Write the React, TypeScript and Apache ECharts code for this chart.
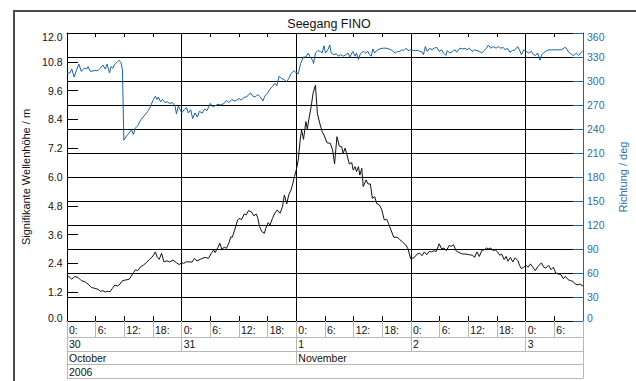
import React, { useEffect, useRef } from 'react';
import * as echarts from 'echarts';

// Significant wave height (m) at FINO, hours since 30 Oct 2006 00:00
const waveHours = [
  0, 1, 1.6, 2.3, 3, 3.7, 4.4, 5.1, 5.8, 6.5, 7, 7.5, 8, 8.5, 9, 9.5, 10, 10.6, 11.1, 11.6,
  12.3, 13, 13.4, 13.9, 14.3, 14.8, 15.4, 16, 16.6, 17.3, 18, 18.5, 18.9, 19.3, 19.8, 20.3,
  20.9, 21.5, 22.2, 22.9, 23.5, 24, 24.4, 25, 25.7, 26.2, 26.7, 27.2, 28.3, 28.9, 29.6, 30.2,
  30.7, 31, 31.6, 32, 32.4, 32.9, 33.4, 33.9, 34.3, 34.6, 35.1, 35.7, 36.2, 36.5, 37.1, 37.5,
  38, 38.6, 39.1, 39.6, 39.9, 40.3, 40.8, 41.3, 41.6, 42.1, 42.5, 43, 43.5, 44, 44.6, 45.1,
  45.5, 46, 46.4, 46.9, 47.3, 47.6, 48, 48.4, 48.8, 49.1, 49.5, 50, 50.3, 50.6, 51.1, 51.5,
  52, 52.4, 52.9, 53.4, 53.8, 54.4, 55.1, 55.6, 56, 56.5, 57, 57.5, 57.8, 58.2, 58.6, 59.1,
  59.6, 59.9, 60.3, 60.6, 61, 61.3, 61.7, 62, 62.6, 63, 63.5, 63.9, 64.4, 64.8, 65.4, 65.9,
  66.4, 66.9, 67.3, 67.8, 68.4, 69.1, 69.6, 70.2, 70.9, 71.4, 71.9, 72.6, 73.3, 73.8, 74.3,
  74.8, 75.3, 75.8, 76.3, 76.8, 77.3, 77.9, 78.4, 78.9, 79.4, 80, 80.4, 80.9, 81.4, 81.8,
  82.3, 82.8, 83.5, 84.2, 84.9, 85.3, 85.8, 86.3, 86.8, 87.3, 87.8, 88.2, 88.7, 89.2, 89.6,
  90.1, 90.6, 91, 91.5, 91.9, 92.3, 92.8, 93.3, 93.8, 94.4, 94.7, 95.1, 95.6, 96.1, 96.5,
  97, 97.5, 98, 98.6, 99.3, 99.8, 100.2, 100.8, 101.3, 101.8, 102.3, 102.8, 103.4, 103.9,
  104.3, 104.9, 105.4, 105.9, 106.4, 106.9, 107.4, 108,
];
const waveHeights = [
  1.92, 1.74, 1.85, 1.82, 1.68, 1.64, 1.54, 1.4, 1.36, 1.32, 1.24, 1.26, 1.21, 1.24, 1.22, 1.36, 1.5, 1.46, 1.54, 1.68,
  1.71, 1.74, 1.85, 2.01, 2.13, 2.1, 2.26, 2.33, 2.43, 2.57, 2.71, 2.88, 2.65, 2.57, 2.82, 2.46,
  2.51, 2.46, 2.54, 2.43, 2.35, 2.43, 2.4, 2.47, 2.46, 2.46, 2.61, 2.5, 2.61, 2.65, 2.61, 2.82,
  2.96, 2.85, 3.07, 3.24, 2.99, 3.07, 3.03, 3.26, 3.51, 3.49, 3.79, 4.21, 4.28, 4.21, 4.46, 4.42,
  4.6, 4.55, 4.38, 4.46, 4.32, 3.93, 3.72, 3.65, 3.86, 4.1, 4.0, 4.28, 4.49, 4.63, 4.49, 4.76,
  5.25, 4.88, 5.25, 5.46, 5.76, 6.01, 6.3, 6.71, 7.54, 7.96, 7.57, 8.31, 7.99, 8.38, 8.93, 9.49,
  9.83, 8.65, 8.24, 7.89, 7.75, 7.43, 7.4, 7.13, 6.54, 7.68, 7.29, 7.26, 6.99, 7.2, 6.92, 6.54,
  6.6, 6.29, 6.43, 6.22, 6.43, 6.08, 6.36, 5.6, 5.88, 5.71, 5.71, 5.11, 5.18, 4.9, 4.83, 4.63,
  4.21, 4.24, 4.07, 3.79, 3.49, 3.49, 3.4, 3.3, 3.17, 3.0, 2.6, 2.63, 2.79, 2.83, 2.72,
  2.88, 2.76, 2.9, 2.88, 2.93, 2.9, 3.22, 3.01, 3.04, 2.93, 3.15, 3.11, 3.18, 2.93, 2.88,
  2.83, 2.79, 2.79, 2.76, 2.74, 2.65, 2.88, 2.69, 2.93, 2.97, 3.04, 3.01, 3.04, 2.93, 2.97,
  2.88, 2.74, 2.79, 2.56, 2.69, 2.49, 2.65, 2.46, 2.63, 2.51, 2.32, 2.18, 2.24, 2.32, 2.24,
  2.38, 2.24, 2.1, 2.28, 2.42, 2.24, 2.21, 2.32, 2.14, 2.24, 2.0, 1.96, 1.93, 1.76,
  1.86, 1.72, 1.68, 1.65, 1.54, 1.51, 1.54, 1.45,
];

// Wave direction (deg), same time base
const dirHours = [
  0, 0.6, 1, 1.5, 2, 2.5, 3, 3.6, 4.1, 4.4, 4.9, 5.8, 6.5, 7, 7.5, 8, 8.4, 8.9, 9.2, 9.6,
  10, 10.4, 10.9, 11.3, 11.6, 11.9, 12.3, 13, 13.5, 13.9, 14.3, 14.8, 15.4, 15.9, 16.4, 16.9,
  17.3, 17.6, 18, 18.5, 18.8, 19.1, 19.6, 20, 20.5, 21, 21.5, 22.1, 22.6, 22.9, 23.3, 23.8,
  24, 24.5, 25, 25.4, 25.9, 26.3, 26.8, 27.3, 27.7, 28.3, 28.8, 29.3, 30, 30.5, 31, 31.6,
  32.2, 32.9, 33.4, 33.9, 34.5, 35, 35.5, 36, 36.5, 37.1, 37.6, 38, 38.4, 38.9, 39.4, 39.9,
  40.5, 41, 41.4, 42, 42.5, 43, 43.5, 43.9, 44.4, 44.9, 45.4, 46, 46.4, 46.9, 47.5, 48,
  48.4, 48.9, 49.2, 49.5, 50, 50.5, 50.9, 51.4, 51.6, 52, 52.5, 53.1, 53.4, 53.8, 54.1, 54.6,
  55, 55.3, 55.8, 56.4, 56.8, 57.3, 57.8, 58.4, 58.8, 59.2, 59.8, 60.3, 60.6, 61, 61.4, 62,
  62.5, 63, 63.3, 63.7, 64, 64.4, 64.8, 65.4, 66.1, 66.8, 67.4, 68.1, 68.7, 69.2, 69.6, 70.2,
  70.5, 71, 71.4, 71.9, 72.6, 73.6, 74.3, 74.6, 75, 75.4, 75.9, 76.4, 76.8, 77.4, 77.9, 78.4,
  78.8, 79.3, 79.6, 80.1, 80.7, 81.2, 81.6, 82.2, 82.8, 83.3, 83.7, 84.2, 84.8, 85.3, 85.8,
  86.3, 86.8, 87.3, 87.8, 88.2, 88.7, 89.2, 89.8, 90.3, 90.8, 91.3, 91.7, 92.2, 92.7, 93.2,
  93.8, 94.3, 94.7, 95.1, 95.6, 96.1, 96.6, 97.2, 97.6, 98.1, 98.5, 99, 99.4, 99.9, 100.4,
  100.9, 101.4, 102.1, 102.8, 103.5, 104.2, 104.5, 105, 105.6, 106.1, 106.6, 107.1, 107.5, 108,
];
const dirDegrees = [
  310, 310, 315, 305, 314, 321, 312, 316, 315, 318, 312, 313, 313, 316, 320, 315, 321, 310, 318, 316,
  321, 323, 326, 323, 314, 226, 230, 235, 239, 233, 241, 244, 251, 255, 258, 262,
  266, 270, 276, 281, 277, 280, 274, 277, 273, 274, 272, 273, 269, 259, 269, 263,
  260, 264, 267, 260, 264, 253, 260, 255, 262, 260, 265, 263, 272, 268, 269, 271,
  270, 272, 276, 273, 277, 275, 276, 278, 276, 280, 280, 283, 285, 281, 280, 283,
  280, 275, 281, 285, 290, 293, 297, 294, 306, 303, 302, 299, 303, 309, 313, 310,
  309, 322, 326, 330, 330, 335, 330, 326, 322, 335, 338, 337, 335, 344, 335, 339,
  345, 335, 333, 334, 331, 333, 331, 333, 335, 330, 337, 331, 335, 327, 334, 337,
  335, 337, 333, 331, 340, 335, 338, 340, 341, 341, 340, 338, 335, 337, 337, 339,
  338, 341, 338, 339, 338, 338, 336, 333, 343, 337, 341, 339, 341, 342, 337, 339,
  335, 332, 338, 335, 337, 339, 336, 341, 340, 341, 339, 341, 337, 339, 338,
  337, 335, 338, 341, 345, 341, 343, 341, 343, 341, 342, 339, 341, 336, 338,
  339, 343, 339, 333, 339, 337, 335, 337, 333, 332, 335, 326, 333, 336, 338,
  339, 339, 339, 339, 339, 342, 341, 336, 333, 332, 335, 332, 335, 338,
];

// Time axis: 30 Oct 00:00 to 3 Nov 12:00
const SPAN_HOURS = 108;
const hourLabelTicks = [0, 6, 12, 18, 24, 30, 36, 42, 48, 54, 60, 66, 72, 78, 84, 90, 96, 102];
const dayTicks = [0, 24, 48, 72, 96];
const dayLabels = ['30', '31', '1', '2', '3'];
const monthTicks = [0, 48];
const monthLabels = ['October', 'November'];
const yearTicks = [0];
const yearLabels = ['2006'];

const FONT = 'Liberation Sans, Arial, Helvetica, sans-serif';
const BLUE = '#1b63a3';
const BLUE_TEXT = '#2b6fab';
const TABLE_GRAY = '#b8b8b8';

const minorHourTicks = hourLabelTicks.filter((h) => h % 24 !== 0);
const separatorTicks = [...hourLabelTicks, SPAN_HOURS];

const labelStyle = {
  show: true,
  align: 'left',
  fontSize: 10.5,
  color: '#111',
  fontFamily: FONT,
  padding: [0, 0, 0, 2],
};

function timeAxis(extra: any) {
  return {
    type: 'value',
    min: 0,
    max: SPAN_HOURS,
    position: 'bottom',
    splitLine: { show: false },
    axisLine: { show: false, onZero: false },
    axisTick: { show: false },
    axisLabel: { show: false },
    ...extra,
  };
}

function grayLine() {
  return { show: true, onZero: false, lineStyle: { color: TABLE_GRAY, width: 1 } };
}

export default function App() {
  const ref = useRef<HTMLDivElement>(null);

  useEffect(() => {
    if (!ref.current) return;
    const chart = echarts.init(ref.current, null, { renderer: 'svg' });

    const edgeRich = (fontColor: string) => ({
      top: { padding: [8, 0, 0, 0], fontSize: 10.5, color: fontColor, fontFamily: FONT },
      bottom: { padding: [0, 0, 6, 0], fontSize: 10.5, color: fontColor, fontFamily: FONT },
    });

    const option: any = {
      animation: false,
      backgroundColor: '#ffffff',
      textStyle: { fontFamily: FONT },
      grid: { left: 67, top: 33, width: 524.5, height: 288, containLabel: false },
      graphic: [
        {
          type: 'polyline',
          shape: { points: [[14, 381], [14, 11], [636, 11]] },
          style: { stroke: '#4a4a4a', lineWidth: 2, fill: 'none' },
          silent: true,
        },
        {
          type: 'text',
          x: 329,
          y: 24,
          style: {
            text: 'Seegang FINO',
            fontSize: 12.5,
            fontFamily: FONT,
            fill: '#111',
            align: 'center',
            verticalAlign: 'middle',
          },
          silent: true,
        },
      ],
      xAxis: [
        // bottom border with inner hour ticks and hour labels
        timeAxis({
          interval: 6,
          axisLine: { show: true, onZero: false, lineStyle: { color: '#000', width: 1 } },
          axisTick: {
            show: true,
            inside: true,
            length: 5,
            customValues: minorHourTicks,
            lineStyle: { color: '#000' },
          },
          axisLabel: {
            ...labelStyle,
            customValues: hourLabelTicks,
            margin: 3,
            formatter: (v: number) => `${v % 24}:`,
          },
        }),
        // hour-row cell separators
        timeAxis({
          interval: 6,
          axisTick: {
            show: true,
            inside: false,
            length: 16,
            customValues: separatorTicks,
            lineStyle: { color: TABLE_GRAY },
          },
        }),
        // day row, also provides the vertical day lines
        timeAxis({
          offset: 16,
          interval: 24,
          axisLine: grayLine(),
          axisTick: {
            show: true,
            length: 14,
            customValues: [...dayTicks, SPAN_HOURS],
            lineStyle: { color: TABLE_GRAY },
          },
          axisLabel: {
            ...labelStyle,
            customValues: dayTicks,
            margin: 1.5,
            formatter: (v: number) => dayLabels[dayTicks.indexOf(v)] ?? '',
          },
          splitLine: {
            show: true,
            showMinLine: false,
            showMaxLine: false,
            lineStyle: { color: '#000', width: 1 },
          },
        }),
        // month row
        timeAxis({
          offset: 30,
          interval: 24,
          axisLine: grayLine(),
          axisTick: {
            show: true,
            length: 13,
            customValues: [...monthTicks, SPAN_HOURS],
            lineStyle: { color: TABLE_GRAY },
          },
          axisLabel: {
            ...labelStyle,
            customValues: monthTicks,
            margin: 1.5,
            formatter: (v: number) => monthLabels[monthTicks.indexOf(v)] ?? '',
          },
        }),
        // year row
        timeAxis({
          offset: 43,
          interval: 24,
          axisLine: grayLine(),
          axisTick: {
            show: true,
            length: 14,
            customValues: [...yearTicks, SPAN_HOURS],
            lineStyle: { color: TABLE_GRAY },
          },
          axisLabel: {
            ...labelStyle,
            customValues: yearTicks,
            margin: 2,
            formatter: (v: number) => yearLabels[yearTicks.indexOf(v)] ?? '',
          },
        }),
        // bottom edge of the date table
        timeAxis({ offset: 57, interval: 24, axisLine: grayLine() }),
        // top border with inner hour ticks
        timeAxis({
          position: 'top',
          interval: 6,
          axisLine: { show: true, onZero: false, lineStyle: { color: '#000', width: 1 } },
          axisTick: {
            show: true,
            inside: true,
            length: 4,
            customValues: minorHourTicks,
            lineStyle: { color: '#000' },
          },
        }),
      ],
      yAxis: [
        {
          type: 'value',
          position: 'left',
          min: 0,
          max: 12,
          interval: 1.2,
          name: 'Signifikante Wellenhöhe / m',
          nameLocation: 'middle',
          nameRotate: 90,
          nameGap: 35,
          nameTextStyle: { fontSize: 11, color: '#111', fontFamily: FONT },
          axisLine: { show: true, onZero: false, lineStyle: { color: '#000', width: 1 } },
          axisTick: { show: true, inside: true, length: 11, lineStyle: { color: '#000' } },
          axisLabel: {
            fontSize: 10.5,
            color: '#111',
            fontFamily: FONT,
            margin: 4.5,
            formatter: (v: number) => {
              const s = v.toFixed(1);
              if (Math.abs(v - 12) < 1e-6) return `{top|${s}}`;
              if (Math.abs(v) < 1e-6) return `{bottom|${s}}`;
              return s;
            },
            rich: edgeRich('#111'),
          },
          splitLine: { show: false },
        },
        {
          type: 'value',
          position: 'right',
          min: 0,
          max: 360,
          interval: 30,
          name: 'Richtung / deg',
          nameLocation: 'middle',
          nameRotate: 90,
          nameGap: 34,
          nameTextStyle: { fontSize: 11, color: BLUE_TEXT, fontFamily: FONT },
          axisLine: { show: true, onZero: false, lineStyle: { color: BLUE, width: 1 } },
          axisTick: { show: true, inside: true, length: 10, lineStyle: { color: BLUE } },
          axisLabel: {
            fontSize: 10.5,
            color: BLUE_TEXT,
            fontFamily: FONT,
            margin: 4,
            formatter: (v: number) => {
              const s = String(Math.round(v));
              if (v === 360) return `{top|${s}}`;
              if (v === 0) return `{bottom|${s}}`;
              return s;
            },
            rich: edgeRich(BLUE_TEXT),
          },
          splitLine: {
            show: true,
            showMinLine: false,
            showMaxLine: false,
            lineStyle: { color: '#000', width: 1 },
          },
        },
      ],
      series: [
        {
          name: 'Richtung',
          type: 'line',
          xAxisIndex: 0,
          yAxisIndex: 1,
          data: dirHours.map((h, i) => [h, dirDegrees[i]]),
          showSymbol: false,
          symbol: 'none',
          lineStyle: { color: BLUE, width: 1 },
          z: 3,
        },
        {
          name: 'Wellenhöhe',
          type: 'line',
          xAxisIndex: 0,
          yAxisIndex: 0,
          data: waveHours.map((h, i) => [h, waveHeights[i]]),
          showSymbol: false,
          symbol: 'none',
          lineStyle: { color: '#111', width: 1 },
          z: 4,
        },
      ],
    };

    chart.setOption(option);
    return () => chart.dispose();
  }, []);

  return (
    <div
      ref={ref}
      style={{ position: 'absolute', left: 0, top: 0, width: 636, height: 381, background: '#fff' }}
    />
  );
}
